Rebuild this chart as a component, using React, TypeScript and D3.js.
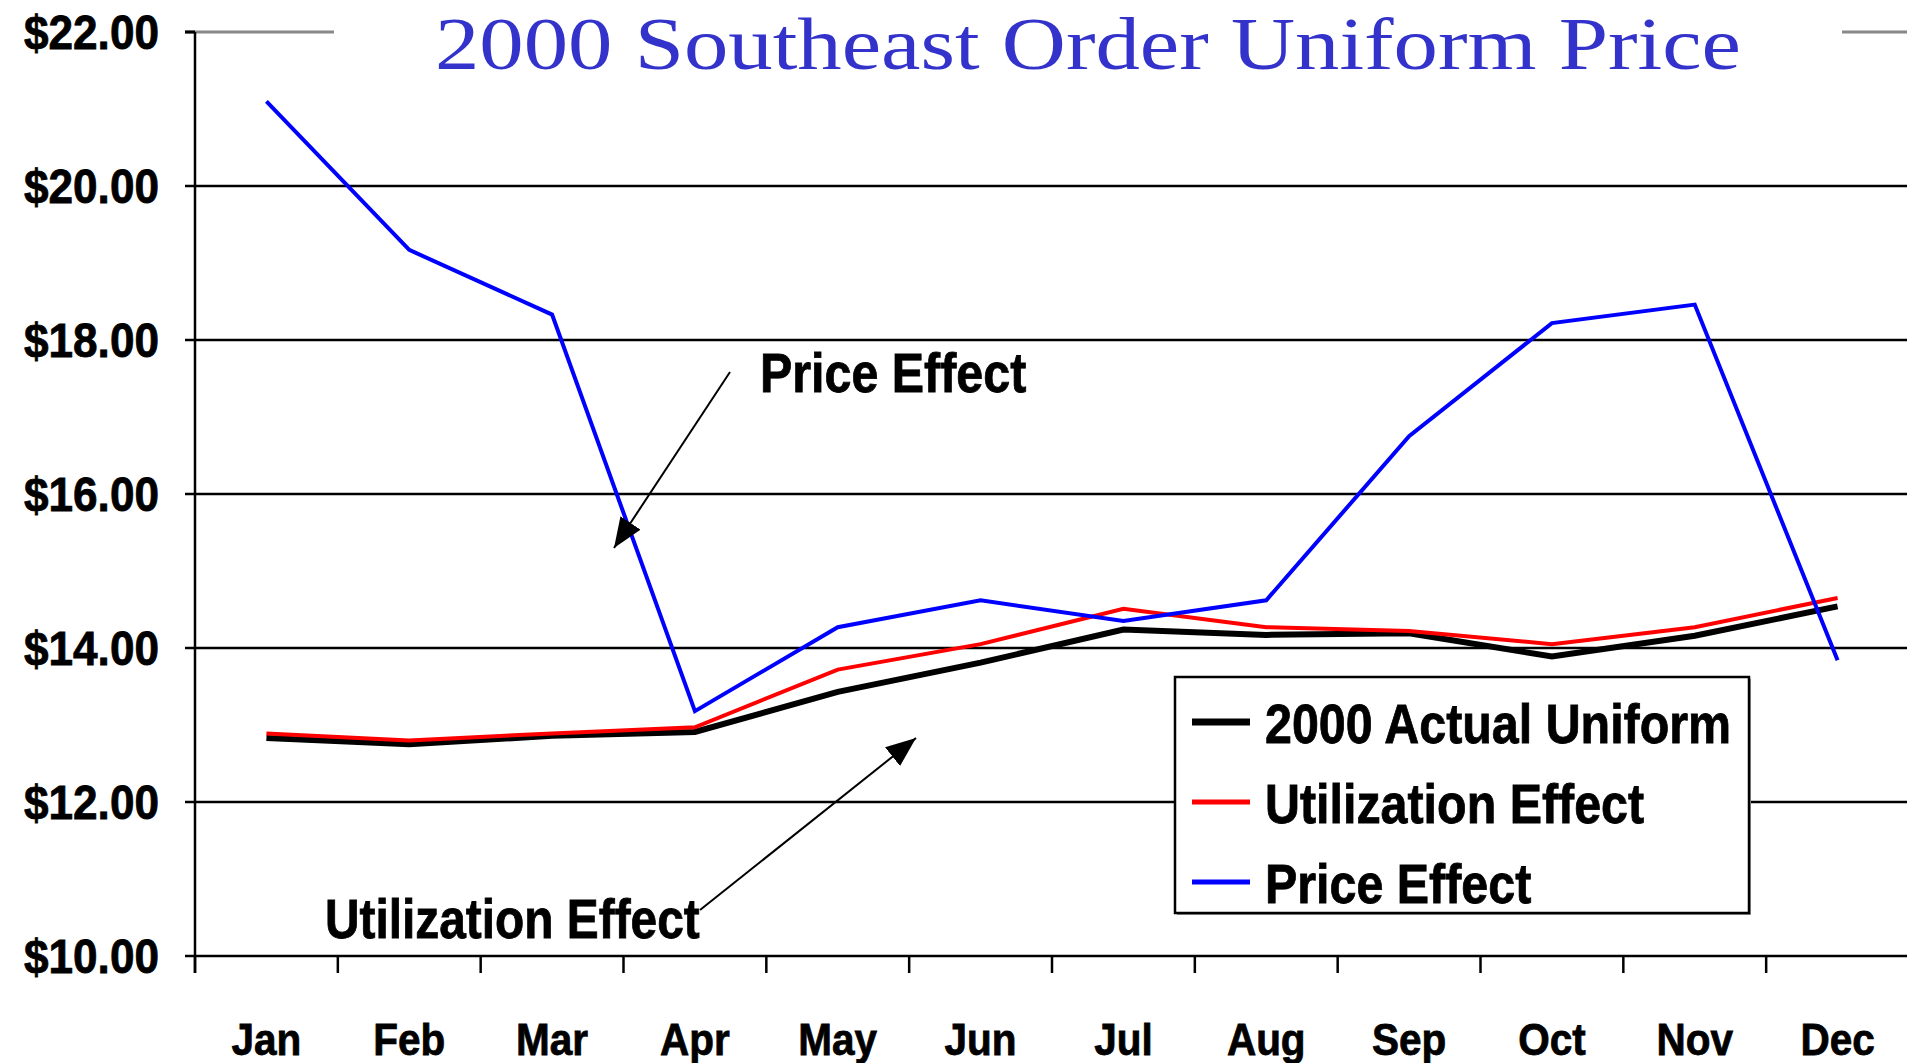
import React from 'react';
import * as d3 from 'd3';

const months = ['Jan', 'Feb', 'Mar', 'Apr', 'May', 'Jun', 'Jul', 'Aug', 'Sep', 'Oct', 'Nov', 'Dec'];
const actualUniform = [12.83, 12.75, 12.86, 12.91, 13.43, 13.81, 14.24, 14.17, 14.19, 13.89, 14.16, 14.54];
const utilizationEffect = [12.89, 12.80, 12.89, 12.97, 13.72, 14.05, 14.51, 14.27, 14.22, 14.05, 14.27, 14.65];
const priceEffect = [21.10, 19.17, 18.33, 13.18, 14.27, 14.62, 14.35, 14.62, 16.75, 18.22, 18.46, 13.84];
const yTicks = [10, 12, 14, 16, 18, 20, 22];

const series = [
    { name: '2000 Actual Uniform', values: actualUniform, color: '#000000', width: 6 },
    { name: 'Utilization Effect', values: utilizationEffect, color: '#ff0000', width: 4 },
    { name: 'Price Effect', values: priceEffect, color: '#0000ff', width: 4 },
];

const W = 1907;
const H = 1063;
const BOLD = "'Liberation Sans', Arial, sans-serif";

function App() {
    const x = d3.scaleBand<string>().domain(months).range([195, 1909]).padding(0);
    const y = d3.scaleLinear().domain([10, 22]).range([956, 32]);

    const line = d3.line<number>()
        .x((_, i) => (x(months[i]) as number) + x.bandwidth() / 2)
        .y(d => y(d));

    // heavier bold text, slightly squeezed like the original
    const boldText = { fontFamily: BOLD, fontWeight: 'bold' as const, stroke: '#000', strokeWidth: 0.8 };

    return (
        <div style={{ position: 'absolute', left: 0, top: 0 }}>
            <svg width={W} height={H} style={{ display: 'block', background: '#fff' }}>
                <defs>
                    <marker id="arrow" viewBox="0 0 30 24" refX={30} refY={12} markerWidth={30} markerHeight={24}
                        markerUnits="userSpaceOnUse" orient="auto">
                        <path d="M0,0 L30,12 L0,24 Z" fill="#000" />
                    </marker>
                </defs>

                {/* gridlines */}
                {yTicks.map(t => (
                    <line key={t} x1={185} x2={W} y1={y(t)} y2={y(t)}
                        stroke={t === 22 ? '#888' : '#000'} strokeWidth={t === 22 ? 3 : 2.5} />
                ))}
                <line x1={185} x2={195} y1={y(22)} y2={y(22)} stroke="#000" strokeWidth={3} />

                {/* y axis */}
                <line x1={195} x2={195} y1={y(22)} y2={y(10) + 17} stroke="#000" strokeWidth={2.5} />
                {yTicks.map(t => (
                    <text key={t} transform={`translate(159, ${y(t) + 17}) scale(0.92,1)`} textAnchor="end"
                        fontSize={48} {...boldText}>
                        {`$${t.toFixed(2)}`}
                    </text>
                ))}

                {/* x ticks and labels */}
                {months.map(m => (
                    <line key={m} x1={x(m)} x2={x(m)} y1={y(10)} y2={y(10) + 17} stroke="#000" strokeWidth={2.5} />
                ))}
                {months.map(m => (
                    <text key={m} transform={`translate(${(x(m) as number) + x.bandwidth() / 2}, 1055) scale(0.9,1)`}
                        textAnchor="middle" fontSize={45} {...boldText}>
                        {m}
                    </text>
                ))}

                {/* title */}
                <rect x={334} y={0} width={1842 - 334} height={80} fill="#fff" />
                <text x={1088} y={69} textAnchor="middle" fontFamily="'Liberation Serif', 'Times New Roman', serif"
                    fontSize={74} fill="#3333cc" textLength={1306} lengthAdjust="spacingAndGlyphs">
                    2000 Southeast Order Uniform Price
                </text>

                {/* series */}
                {series.map(s => (
                    <path key={s.name} d={line(s.values) || ''} fill="none" stroke={s.color}
                        strokeWidth={s.width} strokeLinejoin="miter" />
                ))}

                {/* annotations */}
                <line x1={730} y1={372} x2={614} y2={548} stroke="#000" strokeWidth={2} markerEnd="url(#arrow)" />
                <text transform="translate(760, 392) scale(0.88,1)" fontSize={55} {...boldText}>
                    Price Effect
                </text>
                <line x1={700} y1={910} x2={916} y2={738} stroke="#000" strokeWidth={2} markerEnd="url(#arrow)" />
                <text transform="translate(325, 938) scale(0.87,1)" fontSize={55} {...boldText}>
                    Utilization Effect
                </text>

                {/* legend */}
                <rect x={1177} y={679} width={574} height={236} fill="#999" />
                <rect x={1175} y={677} width={574} height={236} fill="#fff" stroke="#000" strokeWidth={2.5} />
                {series.map((s, i) => (
                    <g key={s.name} transform={`translate(0, ${722 + i * 80})`}>
                        <line x1={1192} x2={1250} y1={0} y2={0} stroke={s.color} strokeWidth={i === 0 ? 7 : 5} />
                        <text transform="translate(1265, 21) scale(0.88,1)" fontSize={55} {...boldText}>
                            {s.name}
                        </text>
                    </g>
                ))}
            </svg>
        </div>
    );
}

export default App;
